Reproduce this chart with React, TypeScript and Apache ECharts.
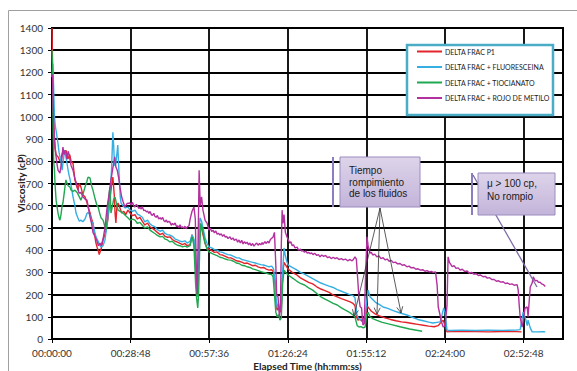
import React, { useEffect, useRef } from "react";
import * as echarts from "echarts";

// time in minutes, viscosity in cP
const seriesNames = [
  "DELTA FRAC P1",
  "DELTA FRAC + FLUORESCEINA",
  "DELTA FRAC + TIOCIANATO",
  "DELTA FRAC + ROJO DE METILO",
];
const seriesColors = ["#e3242b", "#35aee2", "#1fa850", "#b3309f"];

const xAxisTitle = "Elapsed Time (hh:mm:ss)";
const yAxisTitle = "Viscosity (cP)";
const xMaxSec = 11232;
const xStepSec = 1728;
const yMax = 1400;
const yStep = 100;

const p1: number[][] = [
  [0, 1400], [0.2, 1250], [0.4, 1080], [0.7, 950], [1.1, 860], [1.5, 830], [2.2, 820], [2.9, 800], [3.3, 815], [4.0, 845],
  [4.7, 830], [5.1, 850], [5.8, 810], [6.5, 830], [7.0, 800], [7.7, 790], [8.4, 716], [9.0, 690], [9.5, 670], [10.0, 700],
  [10.6, 684], [11.3, 650], [12.1, 639], [12.8, 615], [13.2, 594], [13.9, 570], [14.5, 540], [15.0, 522], [15.6, 470], [16.1, 432],
  [16.6, 410], [16.9, 400], [17.3, 380], [17.6, 392], [18.0, 405], [18.7, 445], [19.4, 470], [19.8, 490], [20.5, 540], [21.2, 625],
  [21.8, 690], [22.3, 729], [22.8, 650], [23.1, 567], [23.4, 522], [23.8, 600], [24.2, 612], [24.9, 590], [25.5, 567], [26.3, 575],
  [27.0, 560], [27.8, 580], [28.6, 567], [29.5, 555], [30.4, 560], [31.3, 540], [32.2, 548], [33.1, 530], [34.0, 513], [35.0, 522],
  [35.9, 505], [36.8, 498], [37.7, 490], [38.6, 480], [39.6, 470], [40.5, 476], [41.4, 462], [42.3, 458], [43.2, 460], [44.1, 448],
  [45.1, 440], [46.0, 436], [46.9, 430], [47.8, 425], [48.7, 430], [49.5, 420], [50.6, 425], [51.3, 470], [52.0, 440], [52.6, 330],
  [53.1, 190], [53.5, 250], [53.9, 480], [54.2, 520], [54.8, 500], [55.3, 470], [56.1, 430], [56.8, 410], [57.5, 405], [58.5, 398],
  [59.5, 390], [60.5, 392], [61.5, 380], [62.5, 378], [63.5, 372], [64.5, 366], [65.5, 365], [66.5, 360], [67.5, 352], [68.5, 350],
  [69.5, 346], [70.5, 340], [71.5, 342], [72.5, 336], [73.5, 330], [74.5, 332], [75.5, 325], [76.5, 320], [77.5, 322], [78.5, 315],
  [79.5, 310], [80.5, 312], [81.2, 300], [81.7, 250], [82.1, 150], [82.5, 130], [83.0, 140], [83.5, 120], [84.0, 135], [84.5, 290],
  [85.0, 345], [85.5, 335], [86.5, 315], [88.0, 300], [89.5, 290], [91.0, 275], [92.5, 265], [94.0, 255], [95.5, 248], [97.0, 235],
  [98.5, 225], [100.0, 218], [101.5, 210], [103.0, 198], [104.5, 190], [106.0, 182], [107.5, 175], [109.0, 168], [110.3, 160], [111.0, 150],
  [111.5, 100], [112.1, 85], [112.9, 90], [113.5, 80], [114.0, 95], [114.6, 75], [115.4, 150], [116.0, 140], [117.0, 125], [118.5, 112],
  [120.0, 104], [122.0, 95], [124.0, 88], [126.0, 82], [128.0, 77], [130.0, 74], [132.0, 70], [134.0, 66], [136.0, 62], [138.0, 58],
  [140.0, 55], [141.5, 60], [142.5, 75], [143.3, 85], [144.0, 60], [144.7, 32], [146.0, 33], [150.0, 34], [155.0, 33], [160.0, 32],
  [165.0, 34], [170.0, 33], [172.0, 32],
];

const fluoresceina: number[][] = [
  [0, 1180], [0.3, 1240], [0.6, 1130], [0.9, 1000], [1.2, 960], [1.6, 930], [2.2, 880], [2.6, 840], [2.9, 820], [3.3, 800],
  [3.7, 760], [4.0, 790], [4.4, 830], [4.8, 850], [5.1, 820], [5.5, 790], [5.9, 760], [6.2, 740], [6.6, 720], [7.0, 690],
  [7.7, 640], [8.4, 600], [8.8, 567], [9.5, 545], [10.0, 530], [10.6, 535], [11.3, 528], [12.1, 540], [12.8, 565], [13.2, 570],
  [13.9, 560], [14.5, 530], [15.0, 520], [15.7, 480], [16.1, 460], [16.9, 440], [17.3, 425], [18.0, 414], [18.7, 420], [19.4, 445],
  [20.2, 520], [20.9, 600], [21.3, 657], [21.8, 760], [22.3, 931], [22.6, 870], [22.9, 780], [23.4, 792], [23.8, 837], [24.1, 873],
  [24.5, 760], [25.0, 640], [25.3, 612], [26.0, 600], [26.8, 590], [27.9, 594], [28.6, 580], [29.5, 575], [30.4, 580], [31.3, 562],
  [32.2, 556], [33.1, 548], [34.0, 527], [35.0, 535], [35.9, 518], [36.8, 510], [37.7, 505], [38.6, 492], [39.6, 485], [40.5, 490],
  [41.4, 475], [42.3, 470], [43.2, 468], [44.1, 462], [45.1, 450], [46.0, 446], [46.9, 440], [47.8, 438], [48.7, 442], [49.5, 432],
  [50.6, 440], [51.3, 468], [52.0, 450], [52.5, 380], [52.9, 240], [53.2, 190], [53.5, 280], [53.8, 420], [54.2, 545], [54.8, 530],
  [55.3, 500], [56.1, 455], [56.8, 430], [57.5, 414], [58.5, 410], [59.5, 402], [60.5, 400], [61.5, 392], [62.5, 390], [63.5, 384],
  [64.5, 380], [65.5, 378], [66.5, 372], [67.5, 366], [68.5, 365], [69.5, 358], [70.5, 355], [71.5, 352], [72.5, 348], [73.5, 345],
  [74.5, 342], [75.5, 338], [76.5, 335], [77.5, 333], [78.5, 329], [79.5, 325], [80.5, 328], [81.2, 315], [81.7, 260], [82.1, 180],
  [82.5, 140], [83.0, 160], [83.5, 130], [84.0, 150], [84.5, 300], [85.0, 410], [85.4, 380], [86.0, 350], [86.5, 333], [88.0, 322],
  [89.5, 312], [91.0, 300], [92.5, 292], [94.0, 282], [95.5, 272], [97.0, 262], [98.5, 252], [100.0, 245], [101.5, 238], [103.0, 232],
  [104.5, 222], [106.0, 215], [107.5, 208], [109.0, 200], [110.3, 195], [111.0, 185], [111.7, 110], [112.2, 95], [112.9, 86], [113.5, 90],
  [114.0, 80], [114.7, 100], [115.4, 180], [115.8, 220], [116.5, 190], [117.3, 180], [118.5, 165], [120.0, 155], [121.3, 144], [123.0, 138],
  [125.0, 128], [127.5, 117], [130.0, 108], [132.0, 98], [134.0, 88], [136.0, 82], [138.0, 76], [139.6, 72], [141.0, 75], [142.2, 77],
  [142.9, 110], [143.5, 140], [144.0, 120], [144.7, 40], [146.0, 38], [150.0, 40], [155.0, 38], [160.0, 40], [165.0, 39], [170.0, 40],
  [171.5, 42], [172.6, 122], [173.5, 90], [174.1, 60], [174.4, 85], [175.2, 50], [175.9, 32], [177.7, 32], [180.0, 33], [180.7, 32],
];

const tiocianato: number[][] = [
  [0, 1300], [0.2, 1200], [0.4, 950], [0.6, 805], [0.9, 760], [1.1, 700], [1.5, 625], [1.8, 600], [2.2, 567], [2.6, 545],
  [2.9, 535], [3.3, 560], [3.7, 600], [4.0, 612], [4.4, 650], [4.8, 690], [5.1, 716], [5.5, 700], [5.9, 690], [6.6, 684],
  [7.0, 670], [7.7, 665], [8.4, 670], [9.2, 660], [10.0, 640], [10.6, 625], [11.3, 650], [12.1, 684], [12.8, 710], [13.2, 729],
  [13.9, 725], [14.5, 690], [15.0, 670], [15.8, 630], [16.5, 600], [16.9, 594], [17.6, 560], [18.0, 545], [18.7, 535], [19.4, 505],
  [19.8, 490], [20.2, 540], [20.5, 594], [20.9, 650], [21.2, 684], [21.6, 567], [22.0, 590], [22.6, 630], [23.1, 639], [23.6, 610],
  [24.2, 580], [25.0, 575], [26.0, 567], [27.0, 555], [27.9, 545], [28.6, 535], [29.5, 540], [30.4, 535], [31.3, 520], [32.2, 525],
  [33.1, 512], [34.0, 500], [35.0, 505], [35.9, 490], [36.8, 482], [37.7, 475], [38.6, 466], [39.6, 460], [40.5, 462], [41.4, 450],
  [42.3, 446], [43.2, 437], [44.1, 440], [45.1, 428], [46.0, 422], [46.9, 420], [47.8, 415], [48.7, 418], [49.5, 414], [50.6, 420],
  [51.3, 460], [52.0, 420], [52.6, 250], [53.0, 180], [53.4, 140], [53.7, 200], [54.1, 400], [54.5, 520], [55.0, 500], [55.5, 470],
  [56.1, 430], [56.8, 405], [57.5, 392], [58.5, 385], [59.5, 380], [60.5, 375], [61.5, 368], [62.5, 365], [63.5, 360], [64.5, 356],
  [65.5, 355], [66.5, 350], [67.5, 342], [68.5, 340], [69.5, 332], [70.5, 330], [71.5, 325], [72.5, 322], [73.5, 316], [74.5, 312],
  [75.5, 308], [76.5, 303], [77.5, 300], [78.5, 297], [79.5, 292], [80.5, 290], [81.0, 280], [81.5, 200], [82.0, 120], [82.5, 100],
  [83.0, 110], [83.5, 85], [84.0, 95], [84.5, 250], [85.0, 310], [85.6, 300], [86.5, 288], [88.0, 275], [89.5, 262], [91.0, 250],
  [92.5, 243], [94.0, 230], [95.5, 220], [97.0, 205], [98.5, 190], [100.0, 180], [101.5, 170], [103.0, 160], [104.5, 153], [106.0, 140],
  [107.5, 130], [109.0, 120], [110.3, 108], [111.0, 99], [111.8, 60], [112.5, 54], [113.2, 56], [114.0, 50], [114.7, 54], [115.3, 110],
  [115.8, 120], [116.5, 100], [117.5, 92], [119.0, 84], [121.0, 75], [124.0, 66], [127.5, 55], [131.0, 45], [135.6, 35],
];

const rojoMetilo: number[][] = [
  [0, 1180], [0.2, 1190], [0.4, 1050], [0.6, 985], [0.9, 900], [1.3, 840], [1.8, 790], [2.2, 760], [2.9, 747], [3.3, 780],
  [3.7, 820], [4.0, 864], [4.4, 830], [4.8, 850], [5.1, 840], [5.5, 810], [5.9, 845], [6.3, 830], [6.6, 806], [7.0, 780],
  [7.7, 760], [8.4, 720], [9.0, 700], [9.9, 657], [10.6, 660], [11.3, 640], [12.1, 630], [12.8, 625], [13.2, 600], [13.9, 550],
  [14.5, 520], [15.0, 480], [15.8, 460], [16.5, 440], [17.0, 420], [17.6, 432], [18.0, 420], [18.7, 450], [19.4, 500], [20.2, 594],
  [20.9, 650], [21.6, 716], [22.3, 770], [23.0, 820], [23.4, 774], [23.9, 760], [24.5, 720], [24.9, 684], [25.5, 640], [26.0, 620],
  [26.7, 594], [27.5, 610], [28.6, 612], [29.0, 604], [29.5, 615], [30.0, 598], [30.4, 594], [30.9, 606], [31.3, 600], [31.8, 588],
  [32.2, 592], [32.7, 585], [33.1, 596], [33.6, 578], [34.1, 580], [34.6, 572], [35.0, 576], [35.5, 566], [35.9, 574], [36.4, 560],
  [36.8, 556], [37.3, 566], [37.7, 552], [38.2, 548], [38.6, 556], [39.1, 540], [39.6, 546], [40.0, 538], [40.5, 548], [41.0, 532],
  [41.4, 528], [41.9, 536], [42.3, 524], [42.8, 530], [43.2, 526], [43.7, 512], [44.1, 520], [44.6, 514], [45.1, 522], [45.6, 506],
  [46.0, 510], [46.5, 502], [46.9, 514], [47.4, 500], [47.8, 505], [48.3, 498], [48.7, 508], [49.1, 496], [49.5, 504], [50.2, 510],
  [50.6, 540], [51.3, 575], [52.0, 594], [52.5, 540], [52.9, 300], [53.2, 200], [53.5, 420], [53.9, 760], [54.3, 600], [54.8, 640],
  [55.3, 580], [56.1, 534], [56.8, 522], [57.5, 490], [58.0, 498], [58.5, 484], [59.0, 490], [59.5, 478], [60.0, 486], [60.5, 472],
  [61.0, 476], [61.5, 468], [62.0, 474], [62.5, 462], [63.0, 470], [63.5, 458], [64.0, 462], [64.5, 452], [65.2, 460], [65.7, 448],
  [66.3, 455], [66.8, 444], [67.5, 450], [68.0, 436], [68.5, 446], [69.0, 432], [69.5, 444], [70.0, 428], [70.5, 438], [71.0, 430],
  [71.5, 436], [72.0, 424], [72.5, 432], [73.0, 420], [73.5, 430], [74.0, 418], [74.5, 426], [75.0, 432], [75.5, 422], [76.0, 430],
  [76.5, 424], [77.0, 434], [77.3, 426], [78.0, 438], [78.5, 430], [79.0, 440], [79.5, 432], [80.0, 448], [81.0, 459], [81.5, 480],
  [82.0, 330], [82.3, 200], [82.8, 190], [83.3, 100], [83.7, 150], [84.0, 420], [84.3, 580], [84.6, 520], [85.0, 560], [85.5, 480],
  [86.1, 459], [86.8, 440], [87.2, 432], [87.5, 438], [88.0, 420], [88.5, 424], [89.0, 410], [89.8, 414], [90.3, 400], [91.0, 404],
  [91.5, 396], [92.0, 398], [92.5, 390], [93.0, 396], [93.5, 386], [94.0, 390], [94.6, 384], [95.1, 388], [95.6, 380], [96.2, 386],
  [97.0, 376], [97.6, 380], [98.2, 370], [98.8, 378], [99.5, 372], [100.2, 376], [101.0, 366], [101.6, 370], [102.3, 362], [103.0, 368],
  [103.7, 362], [104.4, 366], [105.1, 358], [106.0, 362], [106.7, 356], [107.5, 360], [108.3, 352], [109.2, 358], [109.8, 352], [110.3, 356],
  [111.0, 370], [111.5, 360], [112.1, 250], [112.4, 190], [112.9, 145], [113.4, 140], [113.9, 63], [114.4, 70], [114.9, 300], [115.4, 460],
  [115.8, 420], [116.5, 387], [117.0, 390], [117.5, 378], [118.2, 382], [119.0, 370], [119.8, 374], [120.5, 362], [121.3, 366], [122.0, 356],
  [122.8, 360], [123.5, 350], [124.3, 354], [125.0, 344], [125.8, 346], [126.6, 338], [127.5, 340], [128.3, 332], [129.1, 334], [130.0, 325],
  [130.8, 328], [131.6, 320], [132.5, 322], [133.3, 314], [134.1, 316], [135.0, 310], [135.8, 312], [136.6, 305], [137.4, 308], [138.2, 302],
  [139.0, 304], [139.6, 300], [140.5, 302], [141.1, 240], [141.5, 144], [142.0, 117], [142.6, 80], [143.3, 54], [144.0, 60], [144.7, 150],
  [145.1, 370], [145.6, 345], [146.6, 326], [147.3, 330], [148.0, 318], [148.8, 320], [149.5, 310], [150.3, 314], [151.2, 304], [152.1, 306],
  [152.9, 296], [153.7, 300], [154.5, 292], [155.4, 294], [156.2, 286], [157.0, 288], [157.9, 280], [158.7, 282], [159.5, 274], [160.3, 276],
  [161.1, 268], [162.0, 268], [162.8, 260], [163.6, 262], [164.4, 256], [165.3, 258], [166.1, 250], [166.9, 252], [167.7, 246], [168.5, 248],
  [169.3, 242], [170.4, 245], [170.8, 220], [171.1, 162], [171.5, 100], [172.2, 54], [172.6, 80], [173.3, 140], [174.1, 144], [174.4, 100],
  [175.2, 234], [175.9, 252], [176.3, 280], [177.0, 262], [177.7, 264], [178.2, 255], [178.8, 256], [179.4, 248], [180.0, 245], [180.7, 236],
];

const allSeries = [p1, fluoresceina, tiocianato, rojoMetilo];

const callout1Text = "Tiempo\nrompimiento\nde los fluidos";
const callout2Text = "\u03bc > 100 cp,\nNo rompio";

function fmtTime(sec: number): string {
  const s = Math.round(sec);
  const h = Math.floor(s / 3600);
  const m = Math.floor((s % 3600) / 60);
  const ss = s % 60;
  const p = (n: number) => (n < 10 ? "0" + n : "" + n);
  return p(h) + ":" + p(m) + ":" + p(ss);
}

function arrowHead(x1: number, y1: number, x2: number, y2: number) {
  const a = Math.atan2(y2 - y1, x2 - x1);
  const len = 7;
  const sp = 0.45;
  return [
    [x2 - len * Math.cos(a - sp), y2 - len * Math.sin(a - sp)],
    [x2, y2],
    [x2 - len * Math.cos(a + sp), y2 - len * Math.sin(a + sp)],
  ];
}

const calloutFill = {
  type: "linear",
  x: 0, y: 0, x2: 0, y2: 1,
  colorStops: [
    { offset: 0, color: "#ddd4ea" },
    { offset: 1, color: "#c3b4d9" },
  ],
};

export default function App() {
  const ref = useRef<HTMLDivElement>(null);
  useEffect(() => {
    if (!ref.current) return;
    const chart = echarts.init(ref.current, undefined, { renderer: "svg" });
    const src = { x: 380, y: 208 };
    const targets = [
      { x: 354, y: 316 },
      { x: 377, y: 314 },
      { x: 401, y: 313 },
    ];
    const arrowEls: any[] = [];
    targets.forEach((t) => {
      arrowEls.push({
        type: "line",
        z: 20,
        shape: { x1: src.x, y1: src.y, x2: t.x, y2: t.y },
        style: { stroke: "#333", lineWidth: 0.8 },
      });
      arrowEls.push({
        type: "polyline",
        z: 20,
        shape: { points: arrowHead(src.x, src.y, t.x, t.y) },
        style: { stroke: "#333", lineWidth: 0.8, fill: "none" },
      });
    });

    const option: any = {
      animation: false,
      backgroundColor: "#ffffff",
      textStyle: { fontFamily: "Lato, sans-serif" },
      grid: {
        left: 52,
        top: 28,
        right: 14,
        bottom: 32,
        containLabel: false,
        outerBoundsMode: "none",
        show: true,
        borderColor: "#000",
        borderWidth: 2,
        backgroundColor: "transparent",
      },
      legend: {
        data: seriesNames,
        orient: "vertical",
        left: 417,
        top: 48,
        padding: 0,
        itemGap: 8.5,
        itemWidth: 25,
        itemHeight: 2,
        icon: "rect",
        z: 30,
        textStyle: { fontSize: 7, color: "#222", fontFamily: "Lato, sans-serif", padding: [0, 0, 0, -2] },
      },
      xAxis: {
        type: "value",
        min: 0,
        max: xMaxSec,
        interval: xStepSec,
        name: xAxisTitle,
        nameLocation: "middle",
        nameGap: 22,
        nameMoveOverlap: false,
        nameTextStyle: { fontSize: 10, fontWeight: "bold", color: "#222", fontFamily: "Lato, sans-serif" },
        axisLine: { show: true, lineStyle: { color: "#000", width: 2 } },
        axisTick: { show: true, length: 4, lineStyle: { color: "#000" } },
        axisLabel: {
          fontSize: 10,
          color: "#333",
          margin: 9,
          showMaxLabel: false,
          formatter: (v: number) => (v > xMaxSec - 1 ? "" : fmtTime(v)),
        },
        splitLine: { show: true, lineStyle: { color: "#000", width: 1.8 } },
      },
      yAxis: {
        type: "value",
        min: 0,
        max: yMax,
        interval: yStep,
        name: yAxisTitle,
        nameLocation: "middle",
        nameGap: 26,
        nameMoveOverlap: false,
        nameTextStyle: { fontSize: 10, fontWeight: "bold", color: "#222", fontFamily: "Lato, sans-serif" },
        axisLine: { show: true, lineStyle: { color: "#000", width: 2 } },
        axisTick: { show: true, length: 4, lineStyle: { color: "#000" } },
        axisLabel: { fontSize: 10, color: "#333", margin: 9, formatter: (v: number) => String(v) },
        splitLine: { show: true, lineStyle: { color: "#000", width: 1.8 } },
      },
      series: allSeries.map((d, i) => ({
        name: seriesNames[i],
        type: "line",
        data: d.map((p) => [p[0] * 60, p[1]]),
        symbol: "none",
        showSymbol: false,
        color: seriesColors[i],
        lineStyle: { color: seriesColors[i], width: 1.4 },
        z: 2 + i,
      })),
      graphic: [
        {
          type: "rect",
          z: 0,
          shape: { x: 8.5, y: 10.5, width: 600, height: 400 },
          style: { fill: "none", stroke: "#a0a0a0", lineWidth: 1 },
        },
        {
          type: "rect",
          z: 25,
          shape: { x: 407, y: 45, width: 146, height: 70 },
          style: { fill: "#ffffff", stroke: "#4bacc6", lineWidth: 2.5 },
        },
        // callout 1
        {
          type: "line",
          z: 20,
          shape: { x1: 333, y1: 157, x2: 333, y2: 207 },
          style: { stroke: "#8e7cc3", lineWidth: 2 },
        },
        {
          type: "rect",
          z: 20,
          shape: { x: 340, y: 157, width: 80, height: 50 },
          style: { fill: calloutFill, stroke: "#9c8cbf", lineWidth: 1 },
        },
        {
          type: "text",
          z: 21,
          x: 349,
          y: 165,
          style: {
            text: callout1Text,
            font: '10px "Liberation Sans", Arial, sans-serif',
            fill: "#1a1a1a",
            lineHeight: 11.5,
            verticalAlign: "top",
          },
        },
        ...arrowEls,
        // callout 2
        {
          type: "line",
          z: 20,
          shape: { x1: 472, y1: 173, x2: 472, y2: 215 },
          style: { stroke: "#8e7cc3", lineWidth: 2 },
        },
        {
          type: "line",
          z: 20,
          shape: { x1: 473, y1: 175, x2: 537, y2: 287 },
          style: { stroke: "#7e6aa6", lineWidth: 1.3 },
        },
        {
          type: "rect",
          z: 20,
          shape: { x: 478, y: 173, width: 77, height: 42 },
          style: { fill: calloutFill, stroke: "#9c8cbf", lineWidth: 1 },
        },
        {
          type: "text",
          z: 21,
          x: 487,
          y: 177.5,
          style: {
            text: callout2Text,
            font: '10px "Liberation Sans", Arial, sans-serif',
            fill: "#1a1a1a",
            lineHeight: 12.5,
            verticalAlign: "top",
          },
        },
      ],
    };
    chart.setOption(option);
    return () => chart.dispose();
  }, []);
  return (
    <div
      ref={ref}
      style={{ position: "fixed", left: 0, top: 0, width: 577, height: 371, background: "#fff" }}
    />
  );
}
